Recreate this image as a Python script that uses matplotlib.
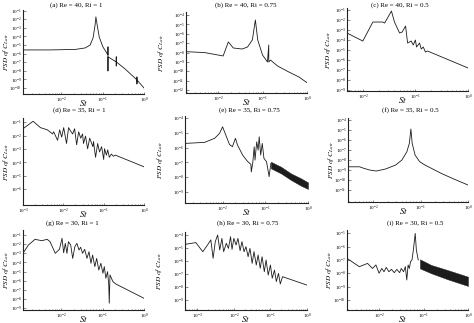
import matplotlib
matplotlib.use("Agg")
import matplotlib.pyplot as plt
from matplotlib.ticker import FixedLocator, LogFormatterSciNotation, LogLocator, NullLocator

plt.rcParams['font.family'] = ['Liberation Serif', 'DejaVu Serif']
plt.rcParams['mathtext.fontset'] = 'stix'

# ---- data (St, PSD of C_Lair) ----
titles = ["(a) Re = 40, Ri = 1", "(b) Re = 40, Ri = 0.75", "(c) Re = 40, Ri = 0.5",
          "(d) Re = 35, Ri = 1", "(e) Re = 35, Ri = 0.75", "(f) Re = 35, Ri = 0.5",
          "(g) Re = 30, Ri = 1", "(h) Re = 30, Ri = 0.75", "(i) Re = 30, Ri = 0.5"]

a_st = [1.2e-3, 5.4e-3, 2.2e-2, 3.8e-2, 5.0e-2, 5.9e-2, 6.6e-2, 6.9e-2, 7.4e-2, 8.3e-2, 0.102,
        0.135, 0.135, 0.135, 0.135, 0.214, 0.214, 0.214, 0.214, 0.347, 0.676, 0.676, 0.676, 0.676, 1.0]
a_psd = [2.7e-6, 2.7e-6, 3.1e-6, 4.6e-6, 1.0e-5, 6.8e-5, 2.2e-3, 1.9e-2, 2.2e-3, 8.7e-5, 6.0e-6,
         7.1e-7, 6.0e-6, 9.8e-9, 4.2e-7, 1.1e-7, 4.2e-7, 3.7e-8, 1.1e-7, 1.7e-8, 8.7e-10, 1.9e-9, 3.0e-10, 8.7e-10, 1.0e-10]

b_st = [1.9e-3, 5.0e-3, 1.3e-2, 1.7e-2, 2.2e-2, 3.5e-2, 4.6e-2, 5.9e-2, 6.9e-2, 7.8e-2, 0.10,
        0.129, 0.138, 0.138, 0.151, 0.219, 0.389, 0.661, 1.0]
b_psd = [1.26e-8, 1.0e-8, 4.4e-9, 1.35e-7, 3.1e-8, 2.4e-8, 4.0e-8, 2.2e-7, 3.0e-5, 2.2e-7, 5.5e-9,
         1.0e-9, 6.5e-8, 1.0e-9, 1.6e-9, 3.7e-10, 8.7e-11, 2.5e-11, 6.3e-12]

c_st = [5.0e-3, 1.0e-2, 1.55e-2, 2.4e-2, 2.6e-2, 3.5e-2, 4.0e-2, 5.0e-2, 5.6e-2, 6.5e-2, 7.1e-2,
        8.3e-2, 9.1e-2, 0.10, 0.105, 0.12, 0.129, 0.141, 0.155, 0.17, 1.0]
c_psd = [5.0e-4, 7.9e-5, 6.3e-3, 6.3e-3, 5.0e-3, 7.9e-2, 6.3e-3, 5.0e-4, 6.3e-4, 2.5e-3, 5.0e-5,
         7.9e-5, 3.2e-5, 1.0e-4, 2.0e-5, 5.0e-5, 1.26e-5, 2.0e-5, 6.3e-6, 7.9e-6, 1.6e-7]

d_st = [1.0e-3, 1.78e-3, 2.7e-3, 4.0e-3, 5.4e-3, 5.75e-3, 7.2e-3, 8.1e-3, 9.1e-3, 1.02e-2, 1.2e-2,
        1.35e-2, 1.5e-2, 1.7e-2, 1.9e-2, 2.14e-2, 2.4e-2, 2.7e-2, 3.0e-2, 3.16e-2, 3.55e-2, 4.0e-2,
        4.5e-2, 5.4e-2, 5.6e-2, 6.3e-2, 7.1e-2, 7.9e-2, 8.9e-2, 0.1, 0.105, 0.117, 0.126, 0.138,
        0.155, 0.174, 0.195, 1.0]
d_psd = [3.3e-2, 0.12, 4.0e-2, 2.75e-2, 1.35e-2, 1.95e-2, 4.5e-3, 2.75e-2, 7.8e-3, 4.0e-2, 2.6e-3,
         4.0e-2, 2.3e-2, 1.35e-2, 3.3e-2, 2.1e-3, 1.95e-2, 6.5e-3, 1.35e-2, 2.6e-3, 9.3e-3, 1.05e-3,
         6.5e-3, 1.5e-3, 3.7e-3, 2.4e-4, 2.6e-3, 6.0e-4, 1.5e-3, 1.66e-4, 1.05e-3, 3.5e-4, 8.7e-4,
         2.4e-4, 4.2e-4, 2.9e-4, 3.5e-4, 4.7e-5]

e_st = [1.32e-3, 3.8e-3, 6.5e-3, 8.5e-3, 1.0e-2, 1.15e-2, 1.45e-2, 1.7e-2, 2.0e-2, 2.24e-2, 2.95e-2,
        3.8e-2, 4.6e-2, 4.7e-2, 5.1e-2, 5.5e-2, 5.75e-2, 6.3e-2, 6.8e-2, 7.2e-2, 7.8e-2, 8.5e-2,
        9.3e-2, 0.107, 0.123, 0.135]
e_psd = [1.95e-6, 2.3e-6, 4.3e-6, 9.3e-6, 2.6e-5, 9.3e-6, 1.66e-6, 1.17e-6, 4.3e-6, 1.5e-6, 3.16e-7,
         1.23e-7, 7.4e-8, 2.3e-8, 1.0e-7, 1.15e-6, 1.45e-7, 2.5e-6, 6.9e-7, 5.5e-6, 3.16e-7, 1.95e-6,
         1.9e-7, 1.12e-7, 1.1e-8, 8.7e-8]
e_band_st = [0.135, 0.234, 0.40, 0.68, 1.0]
e_band_hi = [1.12e-7, 5.1e-8, 1.8e-8, 8.5e-9, 4.5e-9]
e_band_lo = [4.0e-8, 1.8e-8, 6.5e-9, 2.7e-9, 1.6e-9]

f_st = [2.95e-3, 5.1e-3, 6.2e-3, 8.3e-3, 1.15e-2, 1.8e-2, 2.95e-2, 4.0e-2, 5.1e-2, 5.75e-2, 6.2e-2,
        6.6e-2, 7.6e-2, 9.5e-2, 0.123, 0.269, 0.50, 1.0]
f_psd = [2.1e-9, 2.1e-9, 1.5e-9, 1.0e-9, 7.9e-10, 1.26e-9, 3.16e-9, 1.0e-8, 6.8e-8, 4.7e-7, 1.26e-5,
         4.7e-7, 3.16e-8, 6.8e-9, 3.16e-9, 4.7e-10, 1.26e-10, 3.16e-11]

g_st = [1.2e-3, 1.62e-3, 2.34e-3, 3.4e-3, 4.6e-3, 5.4e-3, 7.2e-3, 9.1e-3, 1.05e-2, 1.15e-2, 1.26e-2,
        1.38e-2, 1.5e-2, 1.7e-2, 1.9e-2, 2.14e-2, 2.4e-2, 2.7e-2, 2.95e-2, 3.3e-2, 3.7e-2, 4.2e-2,
        4.7e-2, 5.25e-2, 5.75e-2, 6.5e-2, 7.2e-2, 8.1e-2, 9.1e-2, 0.102, 0.11, 0.12, 0.132, 0.141,
        0.145, 0.151, 0.178, 0.209, 1.0]
g_psd = [1.0e-3, 8.1e-3, 3.4e-2, 2.4e-2, 3.4e-2, 1.86e-2, 1.0e-3, 2.75e-3, 4.4e-2, 1.17e-3, 1.23e-2,
         1.0e-3, 1.86e-2, 8.1e-3, 2.8e-4, 5.2e-3, 1.23e-2, 2.3e-3, 4.6e-3, 1.0e-3, 2.75e-3, 2.8e-4,
         1.5e-3, 8.1e-5, 6.5e-4, 3.5e-5, 2.8e-4, 1.48e-5, 8.1e-5, 6.5e-6, 3.5e-5, 1.86e-6, 9.8e-6,
         3.5e-7, 3.5e-9, 4.3e-6, 7.9e-7, 4.4e-7, 1.2e-8]

h_st = [4.6e-4, 9.1e-4, 1.41e-3, 1.9e-3, 2.34e-3, 2.7e-3, 3.1e-3, 3.6e-3, 4.1e-3, 4.7e-3, 5.25e-3,
        6.2e-3, 7.1e-3, 8.1e-3, 8.9e-3, 1.0e-2, 1.15e-2, 1.29e-2, 1.48e-2, 1.66e-2, 1.9e-2, 2.14e-2,
        2.45e-2, 2.75e-2, 3.16e-2, 3.55e-2, 4.1e-2, 4.6e-2, 5.25e-2, 5.9e-2, 6.8e-2, 7.6e-2, 8.7e-2,
        0.1, 0.112, 0.129, 0.145, 0.166, 0.186, 0.214, 1.0]
h_psd = [1.9e-5, 2.6e-5, 5.2e-6, 1.7e-5, 4.2e-5, 1.62e-6, 3.1e-5, 1.0e-4, 7.1e-6, 5.5e-5, 5.2e-6,
         2.3e-5, 9.3e-6, 7.4e-5, 7.9e-6, 5.5e-5, 1.7e-5, 5.5e-5, 6.2e-6, 3.1e-5, 5.2e-6, 1.26e-5,
         2.14e-6, 9.3e-6, 6.6e-7, 5.2e-6, 4.9e-7, 2.9e-6, 2.75e-7, 2.14e-6, 1.5e-7, 1.2e-6, 8.3e-8,
         4.9e-7, 4.7e-8, 2.0e-7, 2.6e-8, 1.12e-7, 1.7e-8, 6.2e-8, 1.4e-8]

i_st = [1.9e-3, 3.6e-3, 5.5e-3, 7.1e-3, 8.5e-3, 1.0e-2, 1.15e-2, 1.29e-2, 1.45e-2, 1.66e-2, 1.9e-2,
        2.2e-2, 2.5e-2, 2.9e-2, 3.16e-2, 3.55e-2, 3.9e-2, 4.2e-2, 4.5e-2, 4.8e-2, 5.1e-2, 5.5e-2,
        5.9e-2, 6.5e-2, 6.9e-2, 7.6e-2]
i_psd = [1.32e-7, 3.1e-8, 5.5e-8, 2.3e-8, 4.2e-8, 1.0e-8, 2.3e-8, 1.3e-8, 2.75e-8, 1.3e-8, 1.95e-8,
         1.1e-8, 1.95e-8, 1.1e-8, 2.3e-8, 1.3e-8, 3.1e-8, 3.1e-9, 4.2e-8, 2.3e-8, 7.4e-8, 1.0e-7,
         5.5e-7, 1.0e-5, 5.5e-7, 1.0e-7]
i_band_st = [8.3e-2, 0.148, 0.347, 1.0]
i_band_hi = [1.12e-7, 4.2e-8, 1.74e-8, 5.5e-9]
i_band_lo = [2.3e-8, 1.0e-8, 3.5e-9, 1.1e-9]

series = [(a_st, a_psd), (b_st, b_psd), (c_st, c_psd), (d_st, d_psd), (e_st, e_psd),
          (f_st, f_psd), (g_st, g_psd), (h_st, h_psd), (i_st, i_psd)]
bands = {4: (e_band_st, e_band_hi, e_band_lo), 8: (i_band_st, i_band_hi, i_band_lo)}

xlims = [(1.2e-3, 1.0), (1.9e-3, 1.0), (5.0e-3, 1.0), (1.0e-3, 1.0), (1.32e-3, 1.0),
         (2.9e-3, 1.0), (1.2e-3, 1.0), (4.6e-4, 1.0), (1.9e-3, 1.0)]
ylims = [(2.0e-11, 1.2e-1), (5.0e-13, 2.1e-4), (7.9e-10, 1.6e-1), (6.5e-8, 0.21), (1.8e-10, 1.4e-4),
         (6.3e-13, 1.6e-4), (6.3e-10, 0.355), (1.7e-10, 1.7e-4), (1.7e-11, 1.8e-5)]
xtick_exp = [[-2, -1, 0], [-2, -1, 0], [-2, -1, 0], [-3, -2, -1, 0], [-2, -1, 0],
             [-2, -1, 0], [-2, -1, 0], [-3, -2, -1, 0], [-2, -1, 0]]
ytick_exp = [list(range(-1, -11, -1)), list(range(-4, -13, -1)), list(range(-1, -10, -1)),
             list(range(-1, -7, -1)), list(range(-4, -10, -1)), list(range(-4, -12, -1)),
             list(range(-1, -10, -1)), list(range(-4, -10, -1)), list(range(-5, -11, -1))]

# ---- layout (pixel boxes: left, right, top, bottom) ----
W, H = 474, 323
boxes = [(23, 144, 10, 94), (186, 307, 12, 93), (347, 468, 8, 91),
         (23, 144, 118, 205), (185, 308, 116, 203), (348, 468, 118, 202),
         (23, 144, 230, 310), (185, 307, 232, 310), (347, 468, 230, 310)]
title_xy = [(76, 5), (246, 5), (400, 5), (79, 110), (249, 110), (410, 110),
            (72, 223), (248, 223), (415, 223)]
ylab_x = [11, 166, 333, 11, 165, 336, 11, 164, 334]
st_x = [0.5, 0.5, 0.46, 0.5, 0.5, 0.46, 0.5, 0.5, 0.46]

fig = plt.figure(figsize=(W / 100, H / 100), dpi=100)
line_col = '#1c1c1c'

for k in range(9):
    l, r, t, b = boxes[k]
    ax = fig.add_axes([l / W, 1 - b / H, (r - l) / W, (b - t) / H])
    st, psd = series[k]
    ax.plot(st, psd, color=line_col, lw=0.6)
    if k in bands:
        bst, bhi, blo = bands[k]
        ax.fill_between(bst, blo, bhi, color=line_col, lw=0.3)
    ax.set_xscale('log')
    ax.set_yscale('log')
    ax.set_xlim(*xlims[k])
    ax.set_ylim(*ylims[k])

    ax.xaxis.set_major_locator(FixedLocator([10.0 ** e for e in xtick_exp[k]]))
    ax.xaxis.set_minor_locator(LogLocator(base=10, subs=range(2, 10), numticks=20))
    ax.yaxis.set_major_locator(FixedLocator([10.0 ** e for e in ytick_exp[k]]))
    ax.yaxis.set_minor_locator(NullLocator())
    ax.xaxis.set_major_formatter(LogFormatterSciNotation())
    ax.yaxis.set_major_formatter(LogFormatterSciNotation())
    ax.tick_params(which='both', direction='in', labelsize=3.6, pad=1, width=0.4, color='#333333')
    ax.tick_params(which='major', length=1.8)
    ax.tick_params(which='minor', length=1.0)

    for side in ['top', 'right']:
        ax.spines[side].set_visible(False)
    for side in ['left', 'bottom']:
        ax.spines[side].set_linewidth(0.8)
        ax.spines[side].set_color('#222222')

    ax.set_xlabel('$St$', fontsize=6.5, labelpad=0)
    ax.xaxis.set_label_coords(st_x[k], -4.0 / (b - t))
    ax.set_ylabel(r'$PSD\ of\ C_{L\,air}$', fontsize=5.2)
    ax.yaxis.set_label_coords(-(l - ylab_x[k]) / (r - l), 0.5)

    tx, ty = title_xy[k]
    fig.text(tx / W, 1 - ty / H, titles[k], fontsize=5, ha='center', va='center')

fig.savefig('out.png', dpi=100)
